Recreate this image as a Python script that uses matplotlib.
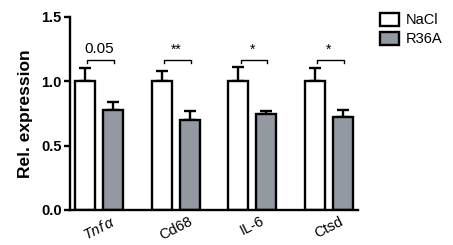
import matplotlib
matplotlib.use("Agg")
import matplotlib.pyplot as plt
import numpy as np

plt.rcParams['font.family'] = ['Liberation Sans', 'DejaVu Sans']
plt.rcParams['mathtext.fontset'] = 'custom'
plt.rcParams['mathtext.it'] = 'Liberation Sans:italic'

genes = [r'$\mathit{Tnf}\,\alpha$', 'Cd68', 'IL-6', 'Ctsd']
nacl = [1.0, 1.0, 1.0, 1.0]
nacl_err = [0.10, 0.076, 0.107, 0.10]
r36a = [0.78, 0.70, 0.742, 0.724]
r36a_err = [0.058, 0.07, 0.026, 0.056]
sig_labels = ['0.05', '**', '*', '*']

fig = plt.figure(figsize=(4.53, 2.45), dpi=100)
ax = fig.add_axes([0.1545, 0.143, 0.636, 0.788])

ind = np.arange(len(genes))
width = 0.26
off = 0.183
lw = 1.7

ax.bar(ind - off, nacl, width, color='white', edgecolor='black', linewidth=lw, zorder=2, label='NaCl')
ax.bar(ind + off, r36a, width, color='#9299a1', edgecolor='black', linewidth=lw, zorder=2, label='R36A')
ax.errorbar(ind - off, nacl, yerr=[[0] * 4, nacl_err], fmt='none', ecolor='black',
            elinewidth=lw, capsize=4, capthick=lw, zorder=1)
ax.errorbar(ind + off, r36a, yerr=[[0] * 4, r36a_err], fmt='none', ecolor='black',
            elinewidth=lw, capsize=4, capthick=lw, zorder=1)

# significance brackets
for i, s in enumerate(sig_labels):
    x0, x1 = i - off + 0.03, i + off + 0.01
    ax.plot([x0, x0, x1, x1], [1.138, 1.164, 1.164, 1.138], color='black', lw=1.0, zorder=3)
    if s == '0.05':
        ax.text(i, 1.2, s, ha='center', va='bottom', fontsize=11)
    else:
        ax.text(i, 1.19, s, ha='center', va='bottom', fontsize=10)

ax.set_xlim(-0.38, 3.38)
ax.set_ylim(0, 1.5)
ax.set_yticks([0, 0.5, 1.0, 1.5])
ax.set_yticklabels(['0.0', '0.5', '1.0', '1.5'], fontsize=10.5, fontweight='bold')
ax.set_xticks(ind)
ax.set_xticklabels(genes, rotation=27, fontsize=10.5)
ax.tick_params(axis='x', length=0, pad=3)
ax.tick_params(axis='y', width=lw, length=4, pad=2)
ax.set_ylabel('Rel. expression', fontsize=12.5, fontweight='bold', labelpad=6)

for side in ['top', 'right']:
    ax.spines[side].set_visible(False)
for side in ['left', 'bottom']:
    ax.spines[side].set_linewidth(lw)

ax.legend(loc='upper left', bbox_to_anchor=(1.03, 1.09), frameon=False, fontsize=10.5,
          handlelength=1.3, handleheight=1.0, handletextpad=0.5, labelspacing=0.3)

fig.savefig('out.png', dpi=100)
